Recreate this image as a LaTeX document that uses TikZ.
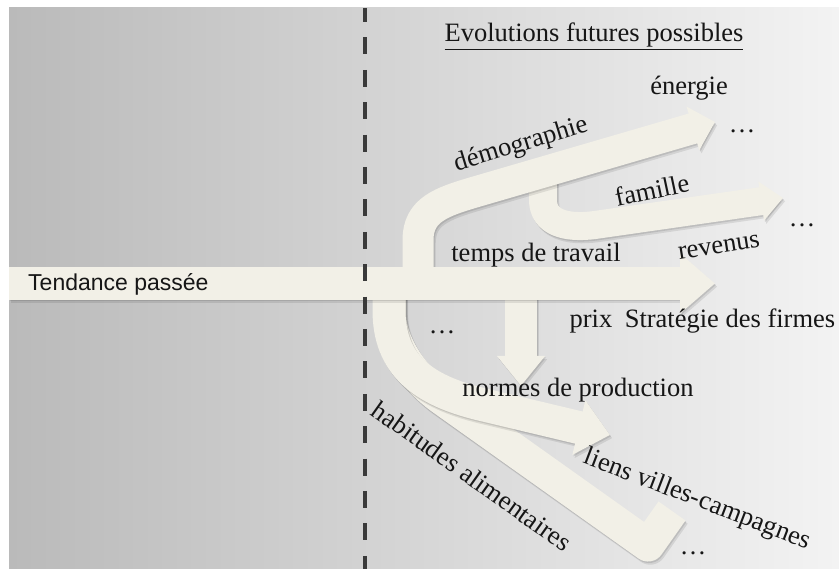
\documentclass[tikz,border=0pt]{standalone}
\usepackage{fontspec}
\setmainfont{Liberation Serif}
\newfontfamily\labelsans{Liberation Sans}
\usetikzlibrary{arrows.meta}
\definecolor{cream}{RGB}{242,240,231}
\definecolor{bgleft}{RGB}{186,186,186}
\definecolor{bgright}{RGB}{243,243,243}
\definecolor{divider}{RGB}{58,58,58}
\definecolor{ink}{RGB}{22,22,22}
\begin{document}
\begin{tikzpicture}[x=1pt,y=-1pt,
  band/.style={draw=cream, line cap=butt, line join=round},
  bandshade/.style={draw=black, opacity=0.1, shift={(1,1.5)}, line cap=butt, line join=round},
  bandshadeb/.style={draw=black, opacity=0.09, shift={(2.2,3.2)}, line cap=butt, line join=round},
  lbl/.style={inner sep=0pt, text=ink, font=\fontsize{26.5}{30}\selectfont},
]
\useasboundingbox (0,0) rectangle (839,569);
\fill[white] (0,0) rectangle (839,569);
% background: grey gradient, darker on the past side
\shade[left color=bgleft, right color=bgright] (9,8) rectangle (839,569);

% branch "famille" (leaves the demographie band)
\foreach \s in {bandshadeb,bandshade,band}{
  \draw[\s, line width=28pt, -{Triangle[length=22pt,width=38pt]}]
    (543,178) -- (543,200) .. controls (543,222) and (565,229) .. (595,225) -- (783,198);
}
% branch "demographie"
\foreach \s in {bandshadeb,bandshade,band}{
  \draw[\s, line width=31pt, -{Triangle[length=23pt,width=44pt]}]
    (418,290) -- (418,240) .. controls (418,210) and (441,202) .. (475,192) -- (715,122);
}
% branch "habitudes alimentaires" (hooked end)
\foreach \s in {bandshadeb,bandshade,band}{
  \draw[\s, line width=33pt]
    (389.5,290) -- (389.5,313) .. controls (389.5,345) and (415,380) .. (444,400)
    -- (648,545) -- (672,511);
}
% branch towards "liens villes-campagnes"
\foreach \s in {bandshadeb,bandshade,band}{
  \draw[\s, line width=33pt, -{Triangle[length=32pt,width=54pt]}]
    (389,290) -- (389,310) .. controls (389,365) and (423,390) .. (480,404) -- (610,435);
}
% branch "normes de production"
\foreach \s in {bandshadeb,bandshade,band}{
  \draw[\s, line width=32pt, -{Triangle[length=30pt,width=46pt]}]
    (521,295) -- (521,386);
}
% main trend
\foreach \s in {bandshadeb,bandshade,band}{
  \draw[\s, line width=33pt, -{Triangle[length=35pt,width=58pt]}]
    (9,283.5) -- (715,283.5);
}

% divider between past and future
\coordinate (divtop) at (365,8);
\coordinate (divbot) at (365,569);
\draw[divider, line width=4pt, dash pattern=on 17pt off 15.4pt, dash phase=3pt]
  (divtop) -- (divbot);

% labels
\node[lbl, anchor=base] (title) at (594,42) {\underline{Evolutions futures possibles}};
\node[lbl, anchor=base] (energie) at (689,95) {énergie};
\node[lbl] (dotsa) at (742,131) {\dots};
\node[lbl, rotate=17] (demo) at (521,145) {démographie};
\node[lbl, rotate=12] (famille) at (652,190) {famille};
\node[lbl] (dotsb) at (802,225) {\dots};
\node[lbl, rotate=9] (revenus) at (719,247) {revenus};
\node[lbl, anchor=base] (temps) at (536,262) {temps de travail};
\node[inner sep=0pt, text=ink, font=\labelsans\fontsize{23}{27}\selectfont, anchor=base west]
  (passe) at (28,291) {Tendance passée};
\node[lbl, anchor=base] (prix) at (591,328) {prix};
\node[lbl, anchor=base] (firmes) at (730,328) {Stratégie des firmes};
\node[lbl] (dotsc) at (442,332) {\dots};
\node[lbl, anchor=base] (normes) at (578,397) {normes de production};
\node[lbl, rotate=-21] (liens) at (697,500) {liens villes-campagnes};
\node[lbl, rotate=-35.5] (habitudes) at (472,476) {habitudes alimentaires};
\node[lbl] (dotsd) at (693,553) {\dots};
\end{tikzpicture}
\end{document}
